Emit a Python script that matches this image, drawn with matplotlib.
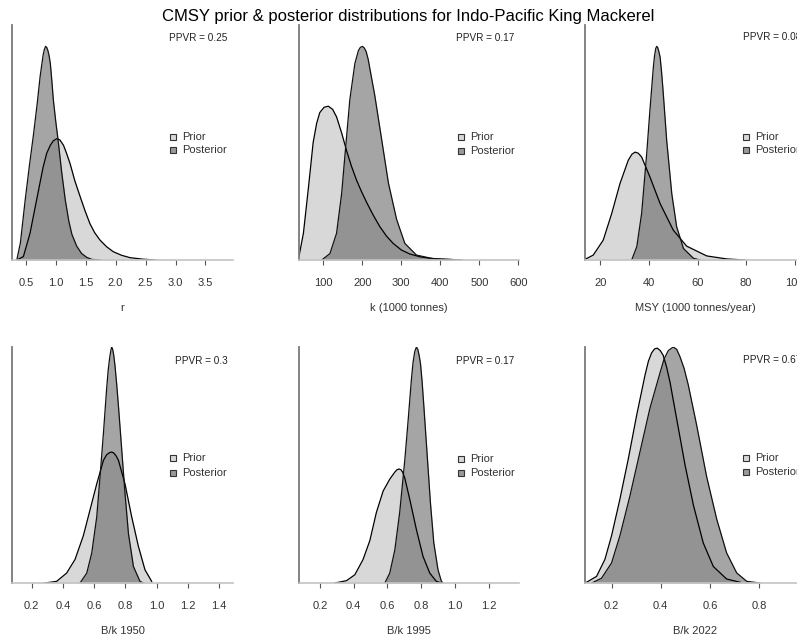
import matplotlib
matplotlib.use("Agg")
import matplotlib.pyplot as plt

plt.rcParams['font.family'] = ['Liberation Sans', 'DejaVu Sans']

# density curves (relative heights, posterior peak = 1)
r_prior_x = [0.35, 0.46, 0.57, 0.68, 0.79, 0.85, 0.91, 0.96, 1.02, 1.07, 1.13, 1.18, 1.24,
             1.32, 1.41, 1.49, 1.57, 1.65, 1.74, 1.85, 1.96, 2.10, 2.24, 2.45, 2.66]
r_prior_d = [0, 0.016, 0.124, 0.28, 0.435, 0.50, 0.537, 0.558, 0.568, 0.562, 0.537, 0.50, 0.451,
             0.37, 0.295, 0.23, 0.171, 0.128, 0.093, 0.062, 0.039, 0.022, 0.011, 0.004, 0]
r_post_x = [0.35, 0.41, 0.49, 0.56, 0.63, 0.69, 0.74, 0.77, 0.79, 0.81, 0.83, 0.85, 0.87,
            0.89, 0.91, 0.935, 0.96, 1.00, 1.04, 1.10, 1.16, 1.22, 1.27, 1.35, 1.43, 1.52,
            1.60, 1.74]
r_post_d = [0, 0.08, 0.28, 0.44, 0.59, 0.73, 0.86, 0.92, 0.96, 0.985, 1.0, 0.995, 0.98,
            0.955, 0.92, 0.84, 0.75, 0.65, 0.56, 0.41, 0.28, 0.18, 0.12, 0.065, 0.031, 0.012,
            0.003, 0]

k_prior_x = [38, 49, 62, 74, 83, 91, 102, 113, 124, 134, 147, 160, 172, 185, 198, 211,
             228, 245, 262, 279, 300, 322, 348, 374, 404, 433]
k_prior_d = [0.02, 0.125, 0.34, 0.55, 0.64, 0.69, 0.715, 0.72, 0.705, 0.67, 0.595, 0.51, 0.44,
             0.375, 0.32, 0.27, 0.21, 0.156, 0.112, 0.078, 0.047, 0.028, 0.015, 0.008, 0.004, 0.002]
k_post_x = [96, 117, 134, 147, 156, 168, 181, 190, 195, 200, 205, 210, 215, 223, 232, 250,
            267, 288, 309, 339, 382, 455]
k_post_d = [0, 0.03, 0.125, 0.31, 0.5, 0.75, 0.92, 0.98, 0.995, 1.0, 0.993, 0.975, 0.94,
            0.86, 0.77, 0.56, 0.36, 0.19, 0.078, 0.023, 0.006, 0]

msy_prior_x = [13.7, 17.1, 21.2, 24.7, 28.1, 31.5, 33.0, 34.3, 35.6, 37.0, 40.4, 44.6, 50.0,
               55.5, 63.8, 72.0, 79.5]
msy_prior_d = [0.003, 0.023, 0.093, 0.218, 0.358, 0.467, 0.495, 0.505, 0.5, 0.482, 0.389,
               0.264, 0.14, 0.065, 0.019, 0.005, 0]
msy_post_x = [32.9, 35.0, 37.0, 39.1, 40.4, 41.8, 42.3, 42.8, 43.2, 43.6, 44.1, 44.6, 45.2,
              45.9, 47.3, 49.4, 51.4, 54.2, 58.3, 61.0]
msy_post_d = [0, 0.062, 0.218, 0.5, 0.7, 0.9, 0.955, 0.99, 1.0, 0.995, 0.975, 0.95, 0.88,
              0.78, 0.56, 0.31, 0.156, 0.054, 0.008, 0]

bk1950_prior_x = [0.285, 0.36, 0.424, 0.478, 0.531, 0.574, 0.617, 0.66, 0.68, 0.698, 0.712,
                  0.724, 0.74, 0.756, 0.798, 0.841, 0.884, 0.926, 0.969]
bk1950_prior_d = [0, 0.007, 0.042, 0.1, 0.2, 0.31, 0.42, 0.52, 0.543, 0.552, 0.555, 0.552,
                  0.54, 0.52, 0.42, 0.28, 0.155, 0.056, 0.007]
bk1950_post_x = [0.51, 0.553, 0.585, 0.617, 0.638, 0.66, 0.68, 0.69, 0.70, 0.707, 0.713,
                 0.719, 0.726, 0.734, 0.745, 0.756, 0.777, 0.798, 0.82, 0.852, 0.894, 0.916]
bk1950_post_d = [0, 0.042, 0.127, 0.28, 0.45, 0.636, 0.82, 0.9, 0.955, 0.985, 1.0, 0.99,
                 0.965, 0.92, 0.84, 0.75, 0.565, 0.38, 0.21, 0.07, 0.007, 0]

bk1995_prior_x = [0.289, 0.358, 0.407, 0.456, 0.496, 0.535, 0.575, 0.614, 0.644, 0.657, 0.669,
                  0.68, 0.69, 0.703, 0.733, 0.772, 0.811, 0.851, 0.89, 0.92]
bk1995_prior_d = [0, 0.01, 0.035, 0.1, 0.18, 0.3, 0.39, 0.44, 0.47, 0.48, 0.483, 0.48, 0.47,
                  0.445, 0.353, 0.226, 0.113, 0.042, 0.007, 0]
bk1995_post_x = [0.585, 0.614, 0.644, 0.673, 0.703, 0.723, 0.742, 0.752, 0.762, 0.772, 0.78,
                 0.788, 0.796, 0.805, 0.815, 0.835, 0.855, 0.875, 0.90, 0.92, 0.93]
bk1995_post_d = [0, 0.042, 0.14, 0.3, 0.52, 0.69, 0.86, 0.935, 0.98, 1.0, 0.99, 0.965, 0.93,
                 0.86, 0.76, 0.55, 0.34, 0.17, 0.056, 0.007, 0]

bk2022_prior_x = [0.098, 0.139, 0.173, 0.2, 0.234, 0.268, 0.302, 0.336, 0.35, 0.363, 0.375,
                  0.386, 0.398, 0.41, 0.424, 0.438, 0.465, 0.499, 0.533, 0.573, 0.614, 0.668,
                  0.723]
bk2022_prior_d = [0.003, 0.028, 0.1, 0.2, 0.355, 0.525, 0.71, 0.88, 0.94, 0.975, 0.992, 0.995,
                  0.985, 0.965, 0.915, 0.85, 0.695, 0.5, 0.33, 0.17, 0.07, 0.017, 0.003]
bk2022_post_x = [0.119, 0.159, 0.2, 0.234, 0.275, 0.315, 0.356, 0.397, 0.414, 0.431, 0.451,
                 0.465, 0.478, 0.495, 0.512, 0.546, 0.587, 0.628, 0.668, 0.709, 0.75, 0.804]
bk2022_post_d = [0, 0.02, 0.085, 0.2, 0.37, 0.553, 0.74, 0.89, 0.95, 0.985, 1.0, 0.99, 0.96,
                 0.91, 0.84, 0.67, 0.45, 0.27, 0.128, 0.043, 0.007, 0]

x_labels = ["r", "k (1000 tonnes)", "MSY (1000 tonnes/year)", "B/k 1950", "B/k 1995", "B/k 2022"]
ppvr = ["0.25", "0.17", "0.08", "0.3", "0.17", "0.67"]
x_ticks = [[0.5, 1.0, 1.5, 2.0, 2.5, 3.0, 3.5],
           [100, 200, 300, 400, 500, 600],
           [20, 40, 60, 80, 100],
           [0.2, 0.4, 0.6, 0.8, 1.0, 1.2, 1.4],
           [0.2, 0.4, 0.6, 0.8, 1.0, 1.2],
           [0.2, 0.4, 0.6, 0.8]]
tick_fmt = ["%.1f", "%d", "%d", "%.1f", "%.1f", "%.1f"]

priors = [(r_prior_x, r_prior_d), (k_prior_x, k_prior_d), (msy_prior_x, msy_prior_d),
          (bk1950_prior_x, bk1950_prior_d), (bk1995_prior_x, bk1995_prior_d),
          (bk2022_prior_x, bk2022_prior_d)]
posts = [(r_post_x, r_post_d), (k_post_x, k_post_d), (msy_post_x, msy_post_d),
         (bk1950_post_x, bk1950_post_d), (bk1995_post_x, bk1995_post_d),
         (bk2022_post_x, bk2022_post_d)]

# layout in pixels (figure is 797 x 639, right column runs past the edge)
W, H = 797, 639
xlims = [(0.27, 3.96), (37.7, 601.8), (13.7, 104.2), (0.074, 1.49), (0.076, 1.38), (0.092, 0.987)]
ylims = [1.1, 1.1, 1.1, 1.0, 1.0, 1.0]
ax_left = [12, 299, 585]
ax_w = [221, 220, 220]
row_top = [25, 347]
row_bot = [260, 583]
ppvr_pos = [(169, 38), (456, 38), (743, 37), (175, 361), (456, 361), (743, 360)]
leg_pos = [(173, 137, 150), (461, 137, 151), (746, 137, 150),
           (173, 458, 473), (461, 459, 473), (746, 458, 472)]

prior_col = "#d8d8d8"
post_col = (0.33, 0.33, 0.33, 0.52)

fig = plt.figure(figsize=(W / 100, H / 100), dpi=100)

def fx(px):
    return px / W

def fy(py):
    return 1 - py / H

for i in range(6):
    row, col = divmod(i, 3)
    ax = fig.add_axes([fx(ax_left[col]), fy(row_bot[row]), ax_w[col] / W,
                       (row_bot[row] - row_top[row]) / H])
    px_, pd_ = priors[i]
    qx_, qd_ = posts[i]
    ax.fill_between(px_, 0, pd_, color=prior_col, lw=0)
    ax.plot(px_, pd_, color="black", lw=0.9)
    ax.fill_between(qx_, 0, qd_, color=post_col, lw=0)
    ax.plot(qx_, qd_, color="#111111", lw=0.9)

    ax.set_xlim(*xlims[i])
    ax.set_ylim(0, ylims[i])
    for s in ["top", "right"]:
        ax.spines[s].set_visible(False)
    ax.spines["left"].set_color("#7a7a7a")
    ax.spines["left"].set_linewidth(1.3)
    ax.spines["bottom"].set_color("#c4c4c4")
    ax.spines["bottom"].set_linewidth(1.2)
    ax.set_yticks([])
    ax.set_xticks(x_ticks[i])
    ax.set_xticklabels([tick_fmt[i] % t for t in x_ticks[i]])
    ax.tick_params(axis="x", length=3.8, width=0.8, color="#555555", pad=9,
                   labelsize=8, labelcolor="#333333")
    ax.set_xlabel(x_labels[i], fontsize=8, color="#333333")
    h = row_bot[row] - row_top[row]
    ax.xaxis.set_label_coords(0.5, -(43 / h))

    tx, ty = ppvr_pos[i]
    fig.text(fx(tx), fy(ty), "PPVR = " + ppvr[i], fontsize=7.2, color="#222222",
             ha="left", va="center")
    lx, ly1, ly2 = leg_pos[i]
    fig.lines.append(plt.Line2D([fx(lx)], [fy(ly1)], transform=fig.transFigure,
                                marker="s", ms=4, mfc=prior_col, mec="#333333", mew=0.8, ls=""))
    fig.lines.append(plt.Line2D([fx(lx)], [fy(ly2)], transform=fig.transFigure,
                                marker="s", ms=4, mfc="#999999", mec="#333333", mew=0.8, ls=""))
    fig.text(fx(lx + 9), fy(ly1), "Prior", fontsize=8, color="#333333", ha="left", va="center")
    fig.text(fx(lx + 9), fy(ly2), "Posterior", fontsize=8, color="#333333", ha="left", va="center")

fig.text(fx(408), fy(16), "CMSY prior & posterior distributions for Indo-Pacific King Mackerel",
         fontsize=12, ha="center", va="center", color="black")

fig.savefig("out.png", dpi=100)
